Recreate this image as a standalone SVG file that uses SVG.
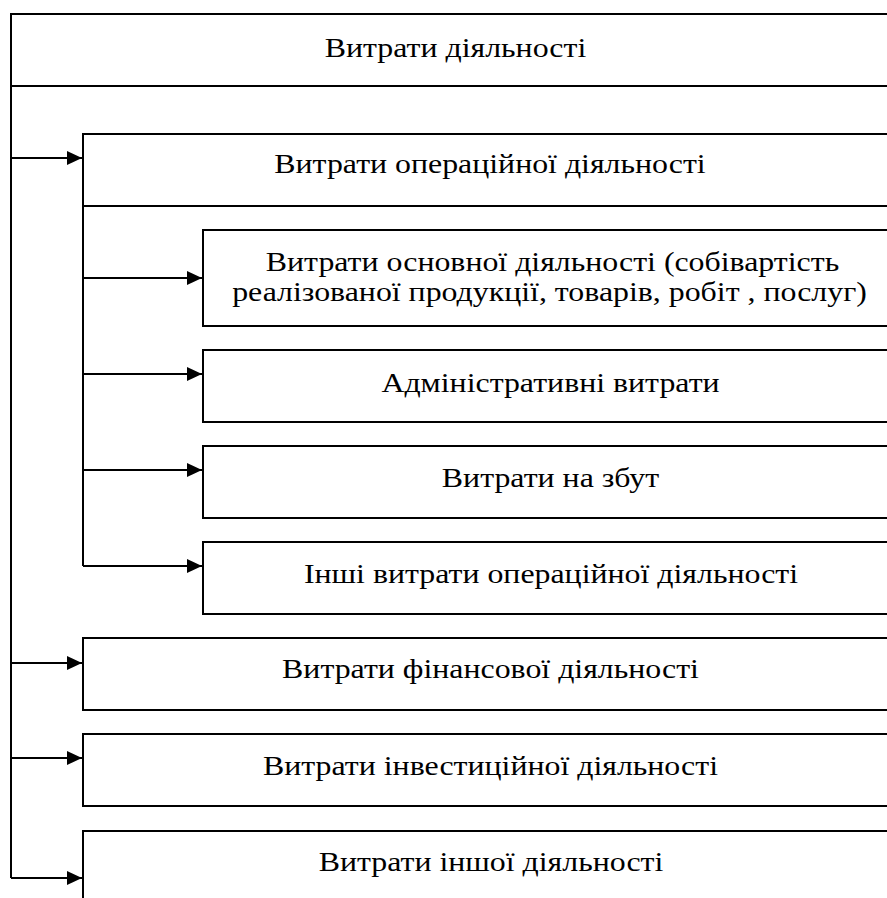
<svg xmlns="http://www.w3.org/2000/svg" width="887" height="898" viewBox="0 0 887 898">
<style>
.box{fill:#fff;stroke:#000;stroke-width:2}
.ln{fill:none;stroke:#000;stroke-width:2}
.t{font-family:"Liberation Serif","Times New Roman",serif;font-size:27px;fill:#000;text-anchor:middle}
</style>
<defs>
<marker id="ah" markerUnits="userSpaceOnUse" markerWidth="16" markerHeight="16" viewBox="0 0 16 16" refX="15" refY="8" orient="auto">
<path d="M0,1 L15,8 L0,15 Z" fill="#000"/>
</marker>
</defs>
<rect width="887" height="898" fill="#fff"/>
<g id="n1"><rect class="box" x="11" y="14" width="890" height="72"/><text class="t" x="0" y="57" transform="translate(455.5,0) scale(1.18,1)">Витрати діяльності</text></g>
<g id="n2"><rect class="box" x="83" y="134" width="820" height="72"/><text class="t" x="0" y="173" transform="translate(490,0) scale(1.18,1)">Витрати операційної діяльності</text></g>
<g id="n3"><rect class="box" x="203" y="230" width="700" height="96"/><text class="t" x="0" y="271" transform="translate(552.5,0) scale(1.18,1)">Витрати основної діяльності (собівартість</text><text class="t" x="0" y="301" transform="translate(549.5,0) scale(1.18,1)">реалізованої продукції, товарів, робіт , послуг)</text></g>
<g id="n4"><rect class="box" x="203" y="350" width="700" height="72"/><text class="t" x="0" y="392" transform="translate(550.5,0) scale(1.18,1)">Адміністративні витрати</text></g>
<g id="n5"><rect class="box" x="203" y="446" width="700" height="72"/><text class="t" x="0" y="487" transform="translate(550.5,0) scale(1.18,1)">Витрати на збут</text></g>
<g id="n6"><rect class="box" x="203" y="542" width="700" height="72"/><text class="t" x="0" y="583" transform="translate(551,0) scale(1.18,1)">Інші витрати операційної діяльності</text></g>
<g id="n7"><rect class="box" x="83" y="638" width="820" height="72"/><text class="t" x="0" y="678" transform="translate(490.5,0) scale(1.18,1)">Витрати фінансової діяльності</text></g>
<g id="n8"><rect class="box" x="83" y="734" width="820" height="72"/><text class="t" x="0" y="775" transform="translate(490.5,0) scale(1.18,1)">Витрати інвестиційної діяльності</text></g>
<g id="n9"><rect class="box" x="83" y="831" width="820" height="100"/><text class="t" x="0" y="871" transform="translate(491,0) scale(1.18,1)">Витрати іншої діяльності</text></g>
<g id="connectors">
<path class="ln" d="M11,86 V878"/>
<path class="ln" d="M83,206 V566"/>
<path class="ln" d="M11,158 H82" marker-end="url(#ah)"/>
<path class="ln" d="M83,278 H202" marker-end="url(#ah)"/>
<path class="ln" d="M83,374 H202" marker-end="url(#ah)"/>
<path class="ln" d="M83,470 H202" marker-end="url(#ah)"/>
<path class="ln" d="M83,566 H202" marker-end="url(#ah)"/>
<path class="ln" d="M11,663 H82" marker-end="url(#ah)"/>
<path class="ln" d="M11,758 H82" marker-end="url(#ah)"/>
<path class="ln" d="M11,878 H82" marker-end="url(#ah)"/>
</g>
</svg>
